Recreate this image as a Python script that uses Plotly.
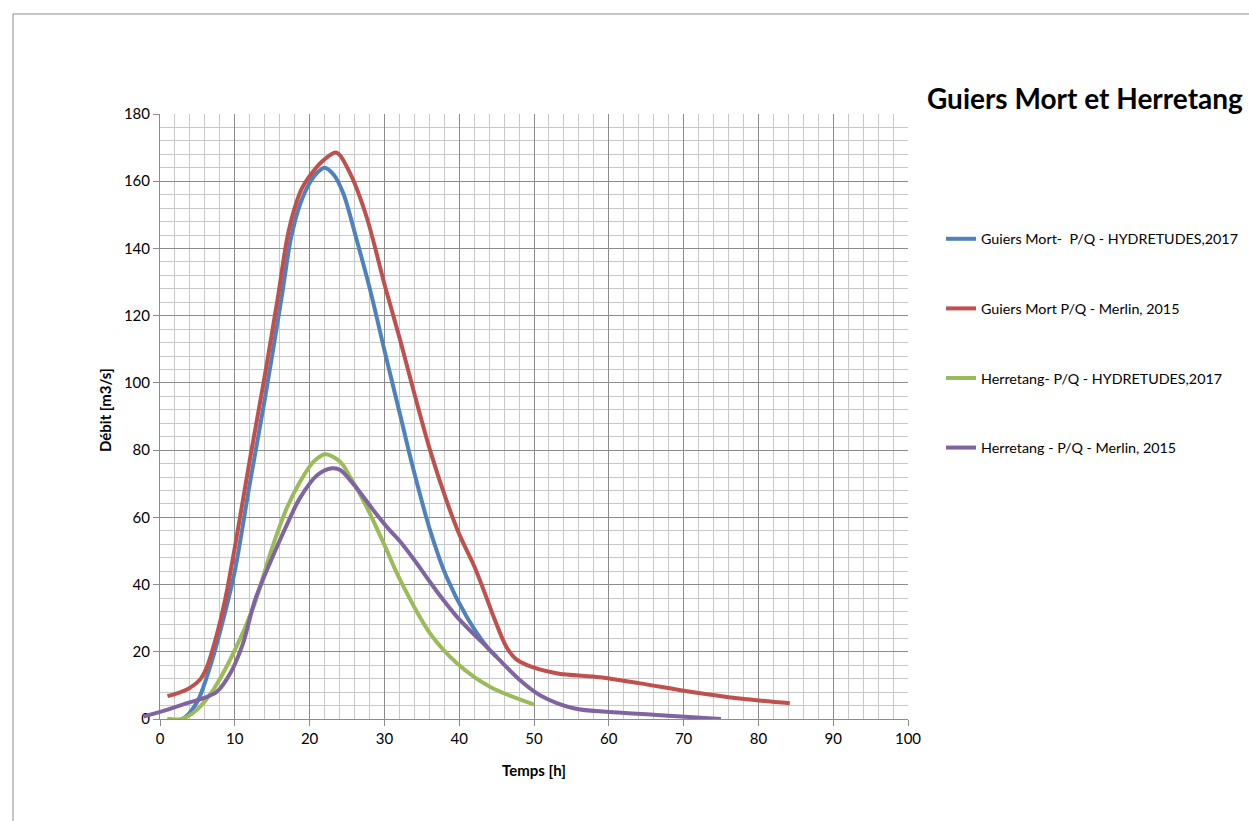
import plotly.graph_objects as go

# ---- data ----
blue_name = "Guiers Mort-  P/Q - HYDRETUDES,2017"
blue_x = [1, 3, 4.9, 6.7, 8.5, 10, 12, 14, 16.3, 17.5, 18.7, 20, 21, 22, 23.2, 24.5, 26.3, 28.1, 30.1, 32.1, 33.9, 36.1, 38.3, 41, 43.7, 45]
blue_y = [0, 0, 4.8, 15.6, 30, 44, 70, 95, 126, 143, 153, 159.5, 162.5, 164, 162, 156.4, 142.5, 127.6, 108.8, 90.5, 74.1, 56.2, 42.3, 30.4, 21.5, 18.5]

red_name = "Guiers Mort P/Q - Merlin, 2015"
red_x = [1, 3.6, 5.3, 6.2, 7.4, 8.7, 10, 12, 14, 15.8, 17, 18, 19, 20.5, 22, 23.6, 25.4, 27.6, 30.1, 32.1, 34.1, 36.1, 38.3, 40, 42, 43.5, 44.6, 46.3, 47.5, 49, 53, 58.8, 64.2, 70.9, 77.5, 84.2]
red_y = [6.8, 8.8, 11.6, 15.1, 23.5, 35.4, 51, 77, 102, 126, 143, 152, 158, 163, 166.5, 168.5, 162.4, 149.5, 128.6, 112.8, 96, 80, 65, 55, 45.5, 37, 30.4, 21.5, 18, 16.1, 13.6, 12.4, 10.6, 8.1, 6.1, 4.7]

green_name = "Herretang- P/Q - HYDRETUDES,2017"
green_x = [1, 2.9, 4.9, 7.1, 9.8, 12.5, 15, 17, 18.7, 20.5, 22.1, 24.1, 25.4, 27.6, 29.9, 32.1, 36.1, 39.7, 44.1, 50]
green_y = [0, 0, 2.7, 8.6, 19.5, 33.4, 51, 63, 70.5, 76.5, 78.8, 76.5, 72.1, 63.2, 52.3, 41.4, 25.5, 16.6, 9.6, 4.3]

purple_name = "Herretang - P/Q - Merlin, 2015"
purple_x = [-2.2, 0.9, 3.6, 5.8, 7.6, 9.4, 11.1, 12.7, 15, 17, 18.7, 21, 23, 24.1, 26, 28.5, 30.7, 32.1, 34.1, 35.7, 37.5, 39.7, 44.1, 48.1, 50.8, 55.3, 60.6, 66.4, 75]
purple_y = [0.7, 2.7, 4.7, 6.2, 8.1, 13.6, 22.5, 35.4, 48, 58, 65.7, 72.5, 74.6, 74.1, 69.5, 62.2, 56.2, 52.8, 47, 42, 36.5, 30.4, 20.5, 11.6, 7.1, 3.2, 2.0, 1.2, 0]

series = [
    (blue_name, blue_x, blue_y, "#4F81BD"),
    (red_name, red_x, red_y, "#C0504D"),
    (green_name, green_x, green_y, "#9BBB59"),
    (purple_name, purple_x, purple_y, "#8064A2"),
]

title_text = "Guiers Mort et Herretang"
x_title = "Temps [h]"
y_title = "Débit [m3/s]"

# ---- layout geometry ----
W, H = 1249, 821
ML, MR, MT, MB = 140, 341, 114, 102
PW = W - ML - MR          # 768
AX_LEFT = 20              # px between plot area left and x=0
x_main_range = [0, 100]
px_per_unit = (PW - AX_LEFT) / (x_main_range[1] - x_main_range[0])
x2_range = [x_main_range[0] - AX_LEFT / px_per_unit, x_main_range[1]]
y_range = [0, 180]
PH = H - MT - MB

def px_x(p):
    return (p - ML) / PW

def px_y(p):
    return 1 - (p - MT) / PH

FONT = "Lato"
major = "#8C8C8C"
minor = "#C8C8C8"

fig = go.Figure()
# empty trace keeps the gridded subplot alive
fig.add_trace(go.Scatter(x=[], y=[], xaxis="x", yaxis="y", showlegend=False, hoverinfo="skip"))

for i, (name, xs, ys, col) in enumerate(series):
    fig.add_trace(go.Scatter(
        x=xs, y=ys, name=name, mode="lines",
        line=dict(color=col, width=4, shape="spline", smoothing=0.9),
        xaxis="x2", yaxis="y2", legendgroup=f"g{i}",
    ))

fig.update_layout(
    width=W, height=H, autosize=False,
    margin=dict(l=ML, r=MR, t=MT, b=MB, autoexpand=False),
    paper_bgcolor="white", plot_bgcolor="rgba(0,0,0,0)",
    font=dict(family=FONT, size=15, color="black"),
    xaxis=dict(
        domain=[AX_LEFT / PW, 1], range=x_main_range, dtick=10, tick0=0,
        showgrid=True, gridcolor=major, gridwidth=1,
        minor=dict(dtick=2, showgrid=True, gridcolor=minor, gridwidth=1),
        showline=True, linecolor=major, linewidth=1, zeroline=False,
        ticks="outside", ticklen=6, tickcolor=major,
        tickfont=dict(family=FONT, size=15), anchor="y",
    ),
    yaxis=dict(
        domain=[0, 1], range=y_range, dtick=20, tick0=0,
        showgrid=True, gridcolor=major, gridwidth=1,
        minor=dict(dtick=4, showgrid=True, gridcolor=minor, gridwidth=1),
        showline=True, linecolor=major, linewidth=1, zeroline=False,
        ticks="outside", ticklen=6, tickcolor=major,
        tickfont=dict(family=FONT, size=15), anchor="x",
    ),
    xaxis2=dict(domain=[0, 1], range=x2_range, visible=False, anchor="y2", fixedrange=True),
    yaxis2=dict(domain=[0, 1], range=y_range, visible=False, anchor="x2", fixedrange=True),
    legend=dict(
        x=px_x(941), y=px_y(223), xanchor="left", yanchor="top",
        font=dict(family=FONT, size=14.3), traceorder="grouped",
        tracegroupgap=48, bgcolor="rgba(0,0,0,0)",
    ),
    showlegend=True,
    annotations=[
        dict(text=f"<b>{title_text}</b>", x=px_x(1085), y=px_y(98), xref="paper", yref="paper",
             xanchor="center", yanchor="middle", showarrow=False, font=dict(family=FONT, size=28)),
        dict(text=f"<b>{x_title}</b>", x=px_x(534), y=px_y(770), xref="paper", yref="paper",
             xanchor="center", yanchor="middle", showarrow=False, font=dict(family=FONT, size=15)),
        dict(text=f"<b>{y_title}</b>", x=px_x(105), y=px_y(410), xref="paper", yref="paper",
             xanchor="center", yanchor="middle", showarrow=False, textangle=-90,
             font=dict(family=FONT, size=15)),
    ],
    shapes=[
        dict(type="rect", xref="paper", yref="paper",
             x0=px_x(13), x1=px_x(W + 20), y0=px_y(H + 20), y1=px_y(14),
             line=dict(color="#8C8C8C", width=1), fillcolor="rgba(0,0,0,0)", layer="below"),
    ],
)

fig.write_html(
    "out.html",
    config={"displayModeBar": False, "responsive": False},
    post_script="document.body.style.margin='0';document.body.style.overflow='hidden';",
)
